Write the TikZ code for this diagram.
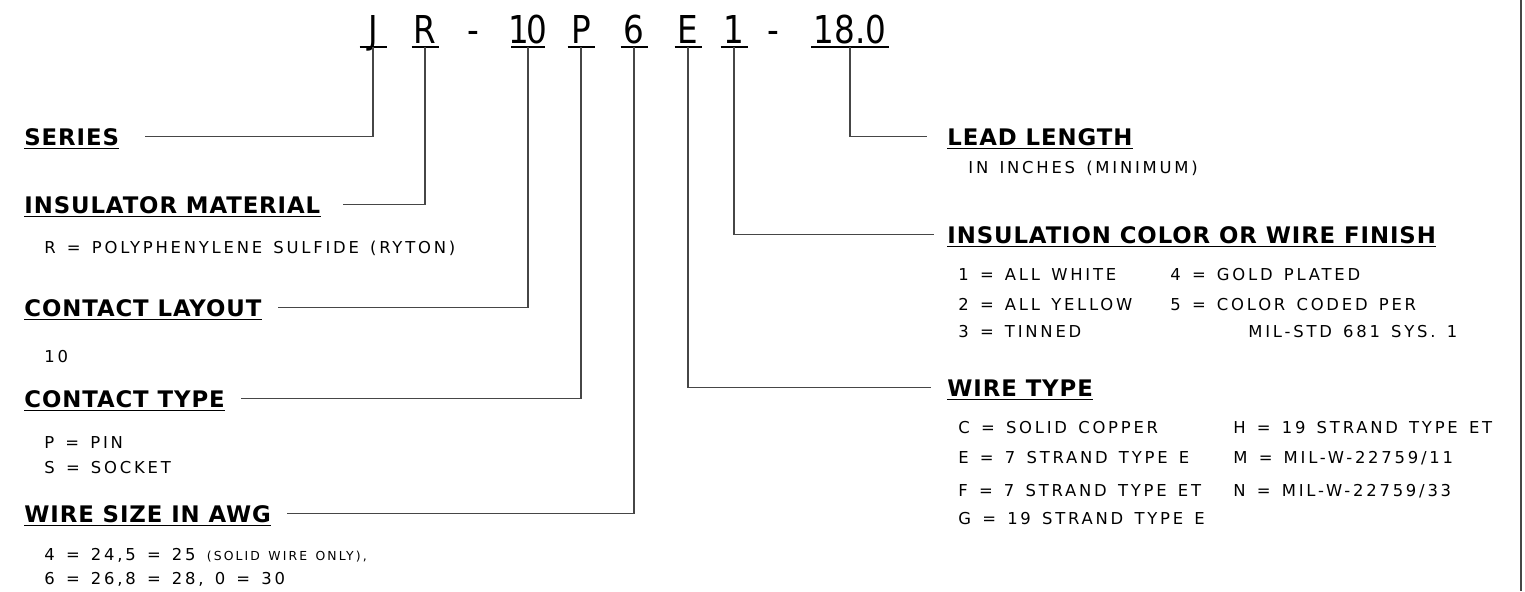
\documentclass[tikz,border=0pt]{standalone}
\usepackage{fontspec}
\setmainfont{DejaVu Sans}
\newfontfamily\codefont{DejaVu Sans}[FakeStretch=0.85]
\newfontfamily\bodyfont{DejaVu Sans}[LetterSpace=17,WordSpace=1.4]
\newfontfamily\headfont{DejaVu Sans}[LetterSpace=4]
\usetikzlibrary{positioning,calc}
\definecolor{leadcol}{RGB}{70,70,70}

\begin{document}
\begin{tikzpicture}[x=0.5pt,y=-0.5pt,
  code/.style={inner sep=0pt,anchor=base,text depth=0pt,font=\codefont\fontsize{19.2}{20}\selectfont},
  head/.style={inner sep=0pt,anchor=base west,text depth=0pt,font=\headfont\bfseries\fontsize{11.4}{12}\selectfont},
  body/.style={inner sep=0pt,anchor=base west,font=\bodyfont\fontsize{8.2}{9}\selectfont},
  lead/.style={draw=leadcol,line width=0.6pt},
  uline/.style={line width=0.9pt}]
  \useasboundingbox (0,0) rectangle (1525,591);
  % part number, one node per field
  \foreach \nm/\ch/\px/\uw in {J/J/373/27,R/R/425/27,10/1\kern-1.5pt0/528/34,P/P/581/27,
      6/6/634/27,E/E/688/27,1/1/734/27,18/18.0/850/78}
     {\node[code] (c\nm) at (\px,43) {\ch};
      \draw[uline] (\px-\uw/2,47) -- (\px+\uw/2,47);
      \coordinate (u\nm) at (\px,47);}
  \node[code] (d1) at (473,43) {-};
  \node[code] (d2) at (773,43) {-};
  % left column
  \node[head] (hSeries) at (24,145) {SERIES};
  \node[head] (hInsul) at (24,213) {INSULATOR MATERIAL};
  \node[body] (bInsul) at (44,253) {R = POLYPHENYLENE SULFIDE (RYTON)};
  \node[head] (hLayout) at (24,316) {CONTACT LAYOUT};
  \node[body] (bLayout) at (44,362) {10};
  \node[head] (hCType) at (24,407) {CONTACT TYPE};
  \node[body] (bPin) at (44,448) {P = PIN};
  \node[body] (bSock) at (44,473) {S = SOCKET};
  \node[head] (hAwg) at (24,522) {WIRE SIZE IN AWG};
  \node[body] (bAwgA) at (44,560) {4 = 24,5 = 25 {\fontsize{6.2}{7}\selectfont (SOLID WIRE ONLY),}};
  \node[body] (bAwgB) at (44,584) {6 = 26,8 = 28,\ 0 = 30};
  % right column
  \node[head] (hLead) at (947,145) {LEAD LENGTH};
  \node[body] (bLead) at (968,173) {IN INCHES (MINIMUM)};
  \node[head] (hFinish) at (947,243) {INSULATION COLOR OR WIRE FINISH};
  \node[body] (iW) at (958,280) {1 = ALL WHITE};
  \node[body] (iY) at (958,310) {2 = ALL YELLOW};
  \node[body] (iT) at (958,337) {3 = TINNED};
  \node[body] (iG) at (1170,280) {4 = GOLD PLATED};
  \node[body] (iC) at (1170,310) {5 = COLOR CODED PER};
  \node[body] (iM) at (1248,337) {MIL-STD 681 SYS. 1};
  \node[head] (hWType) at (947,396) {WIRE TYPE};
  \node[body] (wC) at (958,433) {C = SOLID COPPER};
  \node[body] (wE) at (958,463) {E = 7 STRAND TYPE E};
  \node[body] (wF) at (958,496) {F = 7 STRAND TYPE ET};
  \node[body] (wG) at (958,524) {G = 19 STRAND TYPE E};
  \node[body] (wH) at (1233,433) {H = 19 STRAND TYPE ET};
  \node[body] (wM) at (1233,463) {M = MIL-W-22759/11};
  \node[body] (wN) at (1233,496) {N = MIL-W-22759/33};
  % heading underlines
  \foreach \h in {hSeries,hInsul,hLayout,hCType,hAwg,hLead,hFinish,hWType}
     {\draw[uline] ([yshift=-1.75pt]\h.base west) -- ([yshift=-1.75pt]\h.base east);}
  % leaders
  \draw[lead] (uJ) |- ([xshift=13pt]hSeries.east);
  \draw[lead] (uR) |- ([xshift=11pt]hInsul.east);
  \draw[lead] (u10) |- ([xshift=8pt]hLayout.east);
  \draw[lead] (uP) |- ([xshift=8pt]hCType.east);
  \draw[lead] (u6) |- ([xshift=8pt]hAwg.east);
  \draw[lead] (u18) |- ([xshift=-10pt]hLead.west);
  \draw[lead] (u1) |- ([xshift=-6.5pt]hFinish.west);
  \draw[lead] (uE) |- ([xshift=-8pt]hWType.west);
  % frame edge
  \draw[leadcol,line width=1pt] (1521,0) -- (1521,591);
\end{tikzpicture}
\end{document}
